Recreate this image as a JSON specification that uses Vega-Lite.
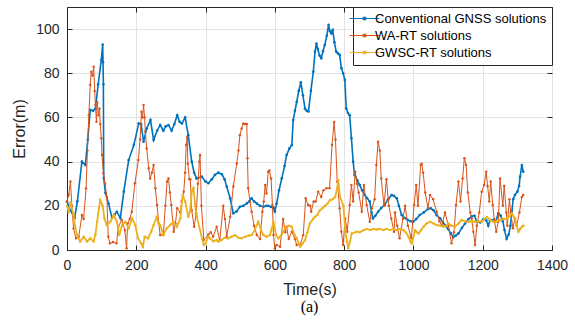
{
"$schema":"https://vega.github.io/schema/vega-lite/v6.json",
"width":485,"height":243,
"autosize":{"type":"none"},
"padding":{"left":67,"top":7,"right":23,"bottom":76},
"background":"white",
"title":{"text":"(a)","orient":"bottom","font":"Liberation Serif","fontSize":16,"fontWeight":"normal","color":"black","offset":2},
"config":{
 "view":{"stroke":"#262626","strokeWidth":1},
 "axis":{"labelFont":"Liberation Sans","labelFontSize":14,"labelColor":"#262626","titleFont":"Liberation Sans","titleFontSize":16,"titleFontWeight":"normal","titleColor":"#262626","gridColor":"#e3e3e3","domainColor":"#262626","tickColor":"#262626","tickSize":-5,"labelPadding":13,"labelFlush":false,"format":"d"},
 "legend":{"orient":"top-right","offset":0,"padding":5,"strokeColor":"#262626","fillColor":"white","cornerRadius":0,"labelFont":"Liberation Sans","labelFontSize":13,"labelColor":"black","labelLimit":400,"symbolType":"M-3,0H3M-0.25,-0.25H0.25V0.25H-0.25Z","symbolSize":100,"symbolStrokeWidth":1.2,"rowPadding":3,"labelOffset":4}
},
"datasets":{
"blue":[{"t":0,"e":21.9},{"t":10,"e":18},{"t":22,"e":14.5},{"t":30,"e":22},{"t":43,"e":40},{"t":53,"e":38.5},{"t":60,"e":50},{"t":67,"e":63.4},{"t":75,"e":63},{"t":82,"e":64},{"t":90,"e":75},{"t":99,"e":86},{"t":103,"e":93},{"t":104,"e":85},{"t":105,"e":75},{"t":106,"e":32.6},{"t":111,"e":25.8},{"t":120,"e":21},{"t":130,"e":14.5},{"t":137,"e":16},{"t":144,"e":17.3},{"t":154,"e":14.5},{"t":164,"e":26.4},{"t":178,"e":40.7},{"t":193,"e":47.5},{"t":207,"e":57.3},{"t":214,"e":57},{"t":221,"e":49},{"t":230,"e":55},{"t":241,"e":58.8},{"t":250,"e":49.8},{"t":260,"e":54},{"t":269,"e":56.6},{"t":278,"e":54},{"t":285,"e":56},{"t":293,"e":56.6},{"t":302,"e":54},{"t":310,"e":57},{"t":318,"e":61},{"t":325,"e":58},{"t":332,"e":57.3},{"t":341,"e":60},{"t":350,"e":52},{"t":360,"e":40},{"t":367,"e":35},{"t":374,"e":32.4},{"t":389,"e":33.2},{"t":400,"e":31},{"t":408,"e":30.2},{"t":418,"e":32},{"t":427,"e":34},{"t":437,"e":35},{"t":447,"e":34.3},{"t":455,"e":32},{"t":461,"e":28.7},{"t":471,"e":23.4},{"t":480,"e":16.6},{"t":490,"e":17.5},{"t":499,"e":19.6},{"t":509,"e":20},{"t":519,"e":21.1},{"t":526,"e":22},{"t":533,"e":23.4},{"t":540,"e":22},{"t":548,"e":21},{"t":557,"e":20},{"t":567,"e":19.6},{"t":575,"e":20},{"t":581,"e":20},{"t":589,"e":19.5},{"t":596,"e":19.2},{"t":600,"e":17.5},{"t":605,"e":21},{"t":612,"e":27},{"t":620,"e":32.4},{"t":628,"e":38},{"t":634,"e":43},{"t":642,"e":46},{"t":649,"e":47.5},{"t":653,"e":58.8},{"t":658,"e":63},{"t":663,"e":67},{"t":669,"e":72},{"t":675,"e":75.9},{"t":681,"e":70},{"t":687,"e":64},{"t":692,"e":63},{"t":697,"e":62.7},{"t":704,"e":72},{"t":711,"e":80.7},{"t":716,"e":89.8},{"t":720,"e":93.5},{"t":724,"e":91},{"t":729,"e":88},{"t":734,"e":86.8},{"t":739,"e":90},{"t":744,"e":92.8},{"t":750,"e":97},{"t":755,"e":101.9},{"t":759,"e":99},{"t":763,"e":98},{"t":767,"e":99.5},{"t":772,"e":94},{"t":777,"e":89.8},{"t":782,"e":89},{"t":787,"e":88.3},{"t":792,"e":82.3},{"t":797,"e":80},{"t":802,"e":77},{"t":806,"e":64.1},{"t":811,"e":62},{"t":816,"e":61},{"t":821,"e":50.6},{"t":826,"e":40},{"t":830,"e":34},{"t":838,"e":31.5},{"t":845,"e":29.4},{"t":852,"e":27},{"t":859,"e":24.9},{"t":866,"e":23.5},{"t":874,"e":21.9},{"t":879,"e":17},{"t":883,"e":14.3},{"t":890,"e":15.5},{"t":898,"e":17.3},{"t":907,"e":19},{"t":917,"e":20.4},{"t":927,"e":23},{"t":937,"e":24.9},{"t":944,"e":24.5},{"t":952,"e":23.4},{"t":958,"e":20},{"t":966,"e":15.8},{"t":975,"e":14.5},{"t":984,"e":13.6},{"t":992,"e":13},{"t":999,"e":12.8},{"t":1008,"e":14},{"t":1018,"e":15.8},{"t":1030,"e":17},{"t":1042,"e":18.6},{"t":1050,"e":18.9},{"t":1058,"e":18},{"t":1067,"e":15.8},{"t":1077,"e":14.3},{"t":1085,"e":12.5},{"t":1091,"e":11.3},{"t":1100,"e":9.5},{"t":1108,"e":7.5},{"t":1115,"e":5.8},{"t":1122,"e":6.5},{"t":1130,"e":7.5},{"t":1140,"e":10},{"t":1149,"e":12},{"t":1159,"e":14},{"t":1168,"e":15.2},{"t":1176,"e":15.5},{"t":1183,"e":12.8},{"t":1193,"e":12.5},{"t":1202,"e":14},{"t":1210,"e":13.5},{"t":1216,"e":11},{"t":1221,"e":13.5},{"t":1231,"e":13.6},{"t":1238,"e":13},{"t":1245,"e":16.6},{"t":1252,"e":15.5},{"t":1258,"e":13},{"t":1263,"e":9},{"t":1269,"e":5},{"t":1275,"e":7},{"t":1280,"e":11},{"t":1284,"e":17.3},{"t":1288,"e":23},{"t":1293,"e":24.9},{"t":1300,"e":26.4},{"t":1305,"e":29},{"t":1308,"e":33.2},{"t":1313,"e":38.5},{"t":1317,"e":35.4}],
"red":[{"t":0,"e":22},{"t":5,"e":25},{"t":10,"e":31},{"t":14,"e":20},{"t":19,"e":9.8},{"t":26,"e":5.3},{"t":34,"e":6},{"t":43,"e":15.8},{"t":48,"e":14},{"t":55,"e":27.9},{"t":59,"e":45},{"t":63,"e":61},{"t":67,"e":74.7},{"t":70,"e":80.7},{"t":74,"e":79},{"t":77,"e":83},{"t":80,"e":72},{"t":82,"e":65.6},{"t":85,"e":58},{"t":87,"e":67},{"t":91,"e":61},{"t":94,"e":64},{"t":96,"e":57},{"t":99,"e":50.6},{"t":101,"e":43},{"t":105,"e":34.7},{"t":110,"e":30},{"t":115,"e":24},{"t":119,"e":6},{"t":124,"e":3},{"t":133,"e":3.6},{"t":143,"e":3},{"t":148,"e":10.5},{"t":158,"e":13.6},{"t":167,"e":9},{"t":172,"e":0.8},{"t":175,"e":12},{"t":181,"e":14},{"t":187,"e":17.3},{"t":196,"e":30.2},{"t":206,"e":40.7},{"t":211,"e":50},{"t":215,"e":62.6},{"t":218,"e":60},{"t":221,"e":65.6},{"t":224,"e":60},{"t":226,"e":53.6},{"t":230,"e":46},{"t":236,"e":37},{"t":240,"e":32.4},{"t":245,"e":35},{"t":250,"e":38.5},{"t":255,"e":28},{"t":260,"e":20.4},{"t":265,"e":12},{"t":269,"e":6.8},{"t":278,"e":6.8},{"t":284,"e":20},{"t":289,"e":31},{"t":293,"e":32.4},{"t":297,"e":26},{"t":301,"e":20.4},{"t":308,"e":8.3},{"t":313,"e":12},{"t":318,"e":18.9},{"t":327,"e":17},{"t":331,"e":22},{"t":337,"e":26.4},{"t":341,"e":35},{"t":344,"e":47.5},{"t":347,"e":51},{"t":349,"e":39},{"t":353,"e":32},{"t":356,"e":32},{"t":360,"e":18},{"t":367,"e":10.5},{"t":373,"e":16.6},{"t":378,"e":30},{"t":382,"e":40},{"t":384,"e":43},{"t":388,"e":20},{"t":395,"e":4.5},{"t":408,"e":7},{"t":415,"e":8},{"t":422,"e":6},{"t":432,"e":10.5},{"t":441,"e":4.5},{"t":451,"e":20},{"t":456,"e":14},{"t":461,"e":6},{"t":471,"e":15},{"t":480,"e":28.7},{"t":490,"e":39.2},{"t":495,"e":45},{"t":499,"e":52},{"t":504,"e":55},{"t":509,"e":57.3},{"t":514,"e":57},{"t":519,"e":57},{"t":521,"e":41.5},{"t":523,"e":28},{"t":528,"e":22},{"t":533,"e":17.3},{"t":540,"e":11},{"t":548,"e":6.8},{"t":557,"e":5},{"t":564,"e":17.3},{"t":568,"e":22},{"t":572,"e":29.4},{"t":576,"e":25.6},{"t":581,"e":35.4},{"t":584,"e":36},{"t":589,"e":32.4},{"t":593,"e":20.4},{"t":596,"e":6.8},{"t":600,"e":0.8},{"t":605,"e":2.3},{"t":615,"e":1.5},{"t":624,"e":14},{"t":630,"e":8},{"t":634,"e":10.5},{"t":640,"e":5},{"t":649,"e":8.3},{"t":658,"e":5},{"t":663,"e":2.3},{"t":673,"e":2.3},{"t":682,"e":6.8},{"t":689,"e":23.4},{"t":696,"e":20.4},{"t":702,"e":20},{"t":705,"e":17.3},{"t":712,"e":22},{"t":718,"e":22},{"t":725,"e":26.4},{"t":734,"e":24},{"t":740,"e":27},{"t":749,"e":28},{"t":758,"e":28},{"t":765,"e":47.5},{"t":771,"e":58},{"t":775,"e":50},{"t":780,"e":31},{"t":787,"e":18.9},{"t":792,"e":8.3},{"t":797,"e":2.3},{"t":803,"e":14.3},{"t":809,"e":8.3},{"t":816,"e":20.4},{"t":821,"e":29.4},{"t":826,"e":22},{"t":832,"e":35.4},{"t":837,"e":30},{"t":842,"e":26},{"t":851,"e":17.3},{"t":857,"e":29.4},{"t":865,"e":20.4},{"t":874,"e":12.8},{"t":880,"e":18.9},{"t":888,"e":23},{"t":893,"e":38.5},{"t":898,"e":49},{"t":903,"e":45},{"t":907,"e":32.4},{"t":915,"e":20},{"t":922,"e":32},{"t":929,"e":20},{"t":936,"e":14.3},{"t":944,"e":8.3},{"t":947,"e":17},{"t":953,"e":11},{"t":960,"e":5.3},{"t":970,"e":14.3},{"t":976,"e":20},{"t":984,"e":11},{"t":994,"e":5.3},{"t":1002,"e":20.4},{"t":1008,"e":29.4},{"t":1013,"e":20},{"t":1021,"e":38.5},{"t":1024,"e":39},{"t":1028,"e":35},{"t":1034,"e":26},{"t":1042,"e":19},{"t":1048,"e":24.9},{"t":1057,"e":23},{"t":1067,"e":17.3},{"t":1075,"e":13},{"t":1082,"e":11},{"t":1091,"e":17},{"t":1101,"e":11},{"t":1110,"e":3},{"t":1117,"e":8},{"t":1123,"e":20.4},{"t":1130,"e":31},{"t":1136,"e":22},{"t":1142,"e":32.4},{"t":1147,"e":41.5},{"t":1152,"e":38.5},{"t":1157,"e":26},{"t":1164,"e":17},{"t":1168,"e":14.3},{"t":1173,"e":8.3},{"t":1178,"e":2.3},{"t":1183,"e":11},{"t":1190,"e":17},{"t":1197,"e":26.4},{"t":1204,"e":29.4},{"t":1210,"e":35.4},{"t":1214,"e":29},{"t":1219,"e":22},{"t":1223,"e":31},{"t":1229,"e":20.4},{"t":1233,"e":14},{"t":1239,"e":8.3},{"t":1245,"e":12.8},{"t":1250,"e":32.4},{"t":1258,"e":20},{"t":1262,"e":29},{"t":1268,"e":17},{"t":1271,"e":11},{"t":1277,"e":23},{"t":1281,"e":17},{"t":1287,"e":9.8},{"t":1293,"e":14.3},{"t":1298,"e":11},{"t":1306,"e":17},{"t":1313,"e":24},{"t":1317,"e":24.9}],
"yellow":[{"t":0,"e":20},{"t":5,"e":17},{"t":10,"e":21.5},{"t":19,"e":15.8},{"t":24,"e":10},{"t":29,"e":6.8},{"t":38,"e":3.8},{"t":48,"e":6},{"t":58,"e":3.8},{"t":67,"e":5.3},{"t":77,"e":3.8},{"t":82,"e":7},{"t":87,"e":12.8},{"t":92,"e":19},{"t":96,"e":22.6},{"t":103,"e":20},{"t":108,"e":14.3},{"t":115,"e":11.3},{"t":125,"e":12.8},{"t":135,"e":15.8},{"t":144,"e":12.8},{"t":151,"e":6.8},{"t":159,"e":11.3},{"t":168,"e":12.8},{"t":178,"e":9.8},{"t":188,"e":14.3},{"t":197,"e":11.3},{"t":205,"e":5.3},{"t":214,"e":3},{"t":219,"e":1.5},{"t":224,"e":6},{"t":234,"e":5.3},{"t":243,"e":8.3},{"t":250,"e":11.3},{"t":259,"e":15},{"t":264,"e":12},{"t":269,"e":11.3},{"t":278,"e":6.8},{"t":288,"e":9.8},{"t":298,"e":11.3},{"t":307,"e":12.8},{"t":317,"e":10.5},{"t":327,"e":14.3},{"t":334,"e":24.9},{"t":341,"e":22},{"t":350,"e":15},{"t":356,"e":18},{"t":360,"e":26.4},{"t":365,"e":28},{"t":370,"e":20},{"t":375,"e":15},{"t":384,"e":9},{"t":390,"e":5},{"t":395,"e":2.3},{"t":400,"e":3},{"t":408,"e":6},{"t":413,"e":5.3},{"t":422,"e":4},{"t":432,"e":4.5},{"t":437,"e":3.8},{"t":446,"e":4.5},{"t":455,"e":5.5},{"t":466,"e":5.3},{"t":475,"e":6},{"t":485,"e":6.8},{"t":495,"e":5.5},{"t":504,"e":5.3},{"t":514,"e":6},{"t":524,"e":6.5},{"t":533,"e":6.8},{"t":542,"e":9},{"t":552,"e":12.8},{"t":560,"e":9},{"t":567,"e":6.8},{"t":576,"e":6},{"t":586,"e":6.8},{"t":590,"e":9},{"t":596,"e":12.8},{"t":603,"e":7},{"t":610,"e":5.3},{"t":620,"e":7},{"t":630,"e":9.8},{"t":640,"e":11},{"t":649,"e":10.5},{"t":656,"e":7},{"t":663,"e":5.3},{"t":673,"e":1.5},{"t":680,"e":3},{"t":687,"e":4.5},{"t":694,"e":8},{"t":701,"e":12},{"t":710,"e":14},{"t":716,"e":15},{"t":723,"e":16},{"t":730,"e":18},{"t":738,"e":19},{"t":745,"e":20},{"t":752,"e":21},{"t":759,"e":22.6},{"t":767,"e":23},{"t":774,"e":24},{"t":780,"e":28},{"t":783,"e":31.7},{"t":788,"e":24},{"t":798,"e":20},{"t":803,"e":9},{"t":808,"e":4},{"t":812,"e":0.8},{"t":817,"e":4},{"t":822,"e":7.5},{"t":836,"e":8.3},{"t":845,"e":8},{"t":856,"e":9},{"t":865,"e":9.5},{"t":875,"e":9},{"t":884,"e":9.5},{"t":894,"e":9.3},{"t":903,"e":9.5},{"t":913,"e":9},{"t":923,"e":9.5},{"t":933,"e":9},{"t":942,"e":9.5},{"t":952,"e":9},{"t":962,"e":9.5},{"t":971,"e":9},{"t":978,"e":8},{"t":986,"e":6},{"t":991,"e":4},{"t":995,"e":3},{"t":1000,"e":6},{"t":1005,"e":9},{"t":1010,"e":8},{"t":1015,"e":7.5},{"t":1022,"e":9},{"t":1029,"e":10.5},{"t":1038,"e":12},{"t":1048,"e":12.8},{"t":1058,"e":12},{"t":1067,"e":11.3},{"t":1077,"e":11},{"t":1087,"e":10.5},{"t":1094,"e":11},{"t":1101,"e":12},{"t":1110,"e":11},{"t":1120,"e":10.5},{"t":1130,"e":12},{"t":1139,"e":13.6},{"t":1149,"e":13},{"t":1159,"e":12.8},{"t":1168,"e":13},{"t":1178,"e":12.8},{"t":1188,"e":13},{"t":1197,"e":12.8},{"t":1205,"e":14},{"t":1212,"e":15},{"t":1222,"e":13.5},{"t":1231,"e":12.8},{"t":1240,"e":13},{"t":1250,"e":13.6},{"t":1260,"e":14},{"t":1270,"e":14.3},{"t":1278,"e":15.5},{"t":1284,"e":16.6},{"t":1288,"e":15.5},{"t":1293,"e":14.3},{"t":1298,"e":11},{"t":1303,"e":8.3},{"t":1308,"e":9.5},{"t":1313,"e":10.5},{"t":1318,"e":11}]
},
"resolve":{"axis":{"x":"independent","y":"independent"}},
"layer":[
 {"data":{"name":"blue"},
  "mark":{"type":"line","strokeWidth":1.6,"point":{"filled":true,"size":7}},
  "encoding":{
   "x":{"field":"t","type":"quantitative","scale":{"domain":[0,1400],"nice":false},"axis":{"title":"Time(s)","values":[0,200,400,600,800,1000,1200,1400],"grid":true,"titlePadding":9}},
   "y":{"field":"e","type":"quantitative","scale":{"domain":[0,110],"nice":false},"axis":{"title":"Error(m)","values":[0,20,40,60,80,100],"grid":true,"titlePadding":8}},
   "color":{"datum":"Conventional GNSS solutions","type":"nominal","scale":{"domain":["Conventional GNSS solutions","WA-RT solutions","GWSC-RT solutions"],"range":["#0072BD","#D95319","#EDB120"]},"legend":{"title":null}}
  }},
 {"data":{"name":"red"},
  "mark":{"type":"line","strokeWidth":1,"point":{"filled":true,"size":6}},
  "encoding":{
   "x":{"field":"t","type":"quantitative","axis":null},
   "y":{"field":"e","type":"quantitative","axis":null},
   "color":{"datum":"WA-RT solutions","type":"nominal"}
  }},
 {"data":{"name":"yellow"},
  "mark":{"type":"line","strokeWidth":1.8,"point":{"filled":true,"size":6}},
  "encoding":{
   "x":{"field":"t","type":"quantitative","axis":{"orient":"top","labels":false,"title":null,"grid":false,"domain":false,"values":[0,200,400,600,800,1000,1200,1400]}},
   "y":{"field":"e","type":"quantitative","axis":{"orient":"right","labels":false,"title":null,"grid":false,"domain":false,"values":[0,20,40,60,80,100]}},
   "color":{"datum":"GWSC-RT solutions","type":"nominal"}
  }}
]
}
